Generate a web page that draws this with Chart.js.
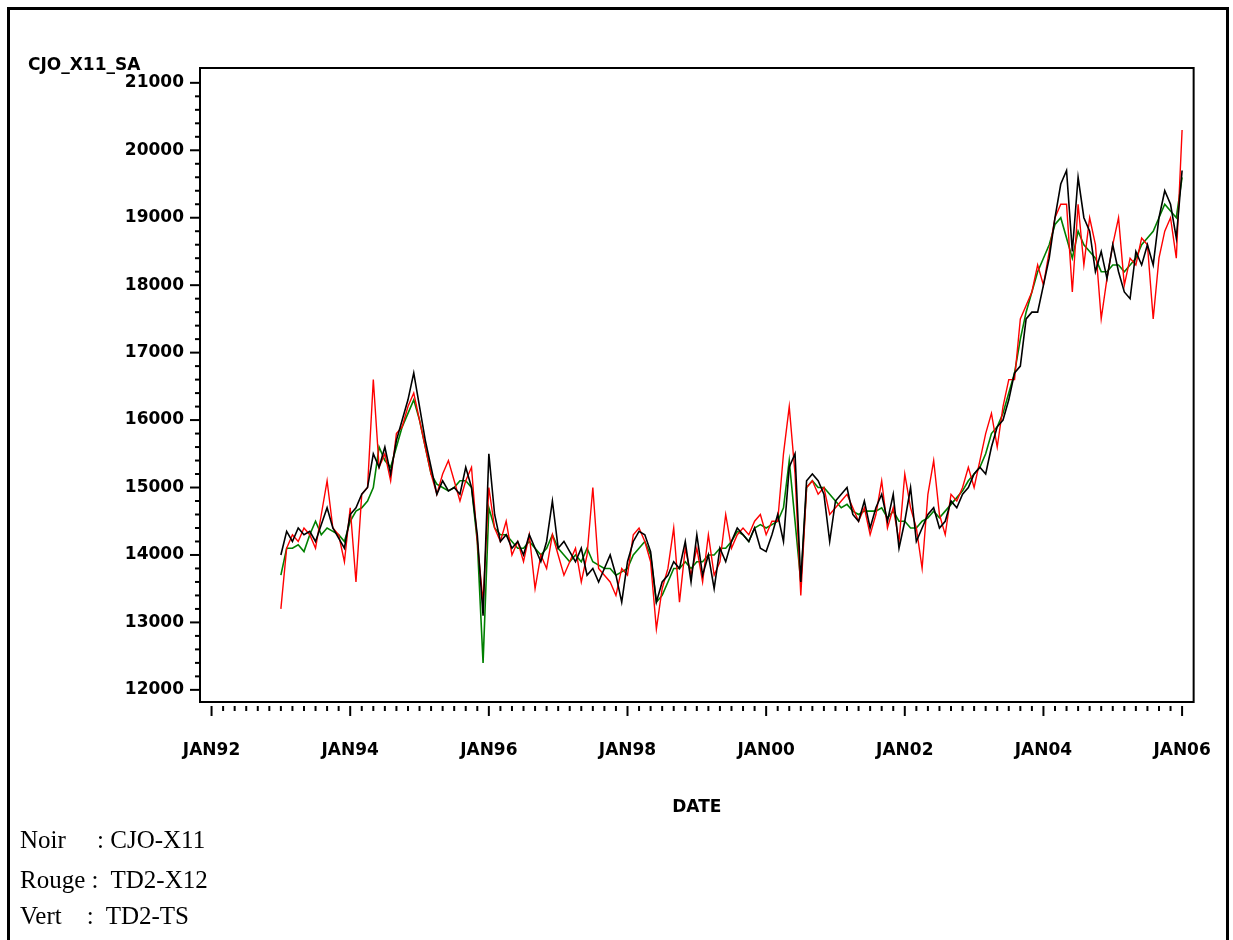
<!DOCTYPE html>
<html><head><meta charset="utf-8">
<script src="https://cdn.jsdelivr.net/npm/chart.js@4/dist/chart.umd.min.js"></script>
<style>
html,body{margin:0;padding:0;background:#fff;overflow:hidden;}
#wrap{position:absolute;left:7px;top:7px;width:1222px;height:940px;border:3px solid #000;border-bottom:none;box-sizing:border-box;z-index:2;pointer-events:none;}
#c{position:absolute;left:0;top:0;}
.leg{position:absolute;left:20px;font-family:"Liberation Serif","Times New Roman",serif;font-size:25px;color:#000;white-space:pre;}
</style></head><body>
<div id="wrap"></div>
<canvas id="c" width="1249" height="830"></canvas>
<div class="leg" style="top:826px">Noir     : CJO-X11</div>
<div class="leg" style="top:866px">Rouge :  TD2-X12</div>
<div class="leg" style="top:902px">Vert    :  TD2-TS</div>
<script>
// months since JAN93 (0 = JAN93)
const xTickLabels = ["JAN92","JAN94","JAN96","JAN98","JAN00","JAN02","JAN04","JAN06"];
const yTicks = [12000,13000,14000,15000,16000,17000,18000,19000,20000,21000];
const noir = [
14000,14350,14200,14400,14300,14350,14200,14450,14700,14400,14250,14100,
14600,14700,14900,15000,15500,15300,15600,15200,15700,16000,16300,16700,
16200,15700,15300,14900,15100,14950,15000,14900,15300,15000,14300,13100,
15500,14600,14200,14300,14100,14200,14000,14300,14100,13900,14200,14800,
14100,14200,14050,13900,14100,13700,13800,13600,13800,14000,13700,13300,
13900,14200,14350,14300,14050,13300,13600,13700,13900,13800,14200,13600,
14300,13700,14000,13500,14100,13900,14200,14400,14300,14200,14400,14100,
14050,14300,14600,14200,15300,15500,13600,15100,15200,15100,14900,14200,
14800,14900,15000,14600,14500,14800,14400,14700,14900,14500,14900,14100,
14500,15000,14200,14400,14600,14700,14400,14500,14800,14700,14900,15000,
15200,15300,15200,15600,15900,16000,16300,16700,16800,17500,17600,17600,
18000,18400,19000,19500,19700,18500,19600,19000,18800,18200,18500,18100,
18600,18200,17900,17800,18500,18300,18600,18300,19000,19400,19200,18700,
19700
];
const rouge = [
13200,14100,14300,14200,14400,14300,14100,14600,15100,14400,14300,13900,
14700,13600,14900,15000,16600,15300,15500,15100,15800,15900,16200,16400,
16000,15600,15200,14900,15200,15400,15100,14800,15100,15300,14200,13300,
15000,14400,14200,14500,14000,14200,13900,14300,13500,14000,13800,14300,
14000,13700,13900,14100,13600,14000,15000,13800,13700,13600,13400,13800,
13700,14300,14400,14200,13900,12900,13500,13800,14400,13300,14100,13700,
14100,13600,14300,13700,13900,14600,14100,14300,14400,14300,14500,14600,
14300,14500,14500,15500,16200,15200,13400,15000,15100,14900,15000,14600,
14700,14800,14900,14700,14500,14700,14300,14600,15100,14400,14700,14200,
15200,14700,14400,13800,14900,15400,14600,14300,14900,14800,15000,15300,
15000,15400,15800,16100,15600,16200,16600,16600,17500,17700,17900,18300,
18000,18500,19000,19200,19200,17900,19200,18300,19000,18600,17500,18100,
18600,19000,18000,18400,18300,18700,18600,17500,18400,18800,19000,18400,
20300
];
const vert = [
13700,14100,14100,14150,14050,14300,14500,14300,14400,14350,14300,14200,
14500,14650,14700,14800,15000,15600,15400,15300,15600,15900,16100,16300,
16000,15600,15200,15050,15000,14950,15000,15100,15100,15000,14200,12400,
14700,14400,14300,14300,14200,14100,14100,14200,14100,14000,14100,14300,
14100,14000,13900,14000,13900,14100,13900,13850,13800,13800,13700,13750,
13800,14000,14100,14200,14000,13300,13400,13600,13800,13800,13900,13800,
13900,13900,14000,14000,14100,14100,14200,14350,14300,14200,14400,14450,
14400,14450,14500,14700,15400,14500,13600,15000,15100,15000,15000,14900,
14800,14700,14750,14650,14600,14650,14650,14650,14700,14550,14650,14500,
14500,14400,14400,14500,14550,14650,14550,14650,14750,14850,14950,15100,
15200,15300,15500,15800,15900,16100,16400,16700,17200,17600,17900,18200,
18400,18600,18900,19000,18700,18400,18800,18600,18500,18400,18200,18200,
18300,18300,18200,18300,18400,18600,18700,18800,19000,19200,19100,19000,
19600
];

const toPts = a => a.map((v, i) => ({x: i, y: v}));
const lblFont = {family: 'DejaVu Sans', weight: 'bold', size: 17};

const tickPlugin = {
  id: 'ticks',
  afterDraw(chart) {
    const ctx = chart.ctx, xs = chart.scales.x, ys = chart.scales.y;
    ctx.save();
    ctx.strokeStyle = '#000';
    ctx.lineWidth = 2;
    const by = ys.bottom;
    for (let m = -12; m <= 156; m += 2) {
      const px = xs.getPixelForValue(m);
      const major = (m + 12) % 24 === 0;
      ctx.beginPath(); ctx.moveTo(px, by + 4); ctx.lineTo(px, by + (major ? 14 : 9)); ctx.stroke();
    }
    const lx = xs.left;
    for (let v = 12000; v <= 21000; v += 200) {
      const py = ys.getPixelForValue(v);
      const major = v % 1000 === 0;
      ctx.beginPath(); ctx.moveTo(lx - (major ? 10 : 5), py); ctx.lineTo(lx, py); ctx.stroke();
    }
    ctx.font = 'bold 17px "DejaVu Sans", sans-serif';
    ctx.fillStyle = '#000';
    ctx.textAlign = 'left';
    ctx.fillText('CJO_X11_SA', 28, 70);
    ctx.textAlign = 'center';
    ctx.fillText('DATE', xs.getPixelForValue(72), 812);
    ctx.restore();
  }
};

new Chart(document.getElementById('c'), {
  type: 'line',
  data: {
    datasets: [
      {data: toPts(noir), borderColor: '#000', borderWidth: 1.6, pointRadius: 0, tension: 0},
      {data: toPts(rouge), borderColor: '#ff0000', borderWidth: 1.4, pointRadius: 0, tension: 0},
      {data: toPts(vert), borderColor: '#008000', borderWidth: 1.6, pointRadius: 0, tension: 0},
    ]
  },
  options: {
    responsive: false, animation: false,
    layout: {padding: {left: 0, right: 20, top: 68, bottom: 0}},
    plugins: {legend: {display: false}, tooltip: {enabled: false}},
    scales: {
      x: {
        type: 'linear', min: -14, max: 158,
        border: {display: true, color: '#000', width: 2},
        grid: {display: false, drawTicks: false},
        afterBuildTicks: s => { s.ticks = xTickLabels.map((_, i) => ({value: -12 + 24 * i})); },
        ticks: {
          callback: (v, i) => xTickLabels[i],
          padding: 38, maxRotation: 0, autoSkip: false,
          color: '#000', font: lblFont
        },
        afterFit: s => { s.height = 128; }
      },
      y: {
        min: 11820, max: 21220,
        border: {display: true, color: '#000', width: 2},
        grid: {display: false, drawTicks: false},
        afterBuildTicks: s => { s.ticks = yTicks.map(v => ({value: v})); },
        ticks: {padding: 16, color: '#000', font: lblFont, callback: v => String(v)},
        afterFit: s => { s.width = 200; }
      }
    }
  },
  plugins: [tickPlugin, {
    id: 'frame',
    afterDraw(chart) {
      const {ctx, chartArea: a} = chart;
      ctx.save(); ctx.strokeStyle = '#000'; ctx.lineWidth = 2;
      ctx.strokeRect(a.left, a.top, a.right - a.left, a.bottom - a.top); ctx.restore();
    }
  }]
});
</script>
</body></html>
